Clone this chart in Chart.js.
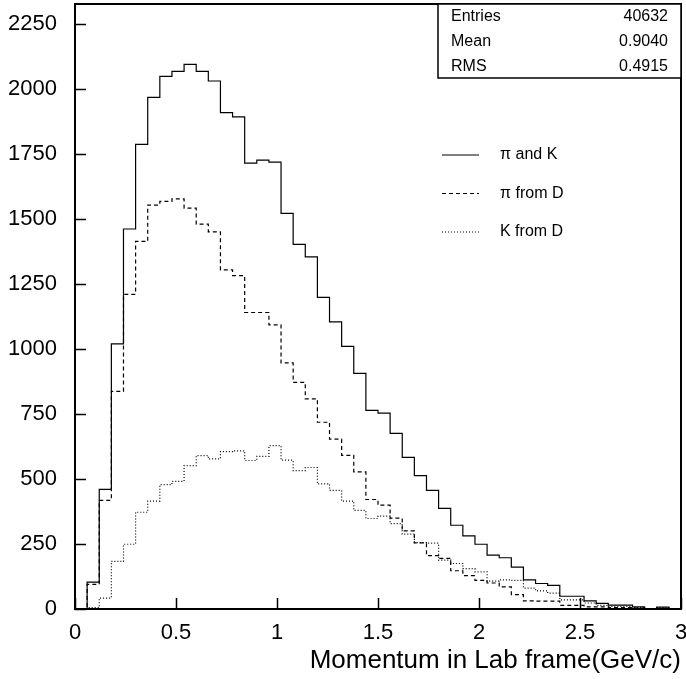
<!DOCTYPE html>
<html>
<head>
<meta charset="utf-8">
<script src="https://cdn.jsdelivr.net/npm/chart.js@4.4.1/dist/chart.umd.min.js"></script>
<style>
html,body{margin:0;padding:0;background:#fff;}
#wrap{width:686px;height:679px;}
</style>
</head>
<body>
<div id="wrap"><canvas id="c" width="686" height="679"></canvas></div>
<script>
// Bin low edges (GeV/c), bin width 0.06
const binLowEdges = [0.00,0.06,0.12,0.18,0.24,0.30,0.36,0.42,0.48,0.54,
  0.60,0.66,0.72,0.78,0.84,0.90,0.96,1.02,1.08,1.14,
  1.20,1.26,1.32,1.38,1.44,1.50,1.56,1.62,1.68,1.74,
  1.80,1.86,1.92,1.98,2.04,2.10,2.16,2.22,2.28,2.34,
  2.40,2.46,2.52,2.58,2.64,2.70,2.76,2.82,2.88,2.94];
const xUpperEdge = 3.0;

const piAndK = [0,103,460,1019,1461,1786,1967,2048,2067,2094,
  2067,2030,1908,1892,1714,1726,1718,1521,1402,1354,
  1198,1104,1010,906,764,753,675,583,513,456,
  387,322,281,249,207,197,161,112,98,91,
  49,49,31,22,15,15,8,2,7,0];
const piFromD = [0,95,418,837,1210,1413,1553,1567,1577,1541,
  1480,1450,1304,1282,1140,1140,1092,946,871,808,
  718,653,591,527,421,399,349,300,254,205,
  195,147,128,110,100,85,55,31,30,30,
  14,14,8,8,5,5,3,0,2,0];
const kFromD = [0,5,42,183,249,372,415,478,491,551,
  590,577,605,608,571,587,628,572,532,544,
  481,456,415,379,348,357,328,288,255,253,
  188,175,155,143,107,112,110,80,70,61,
  35,35,23,14,10,10,5,2,5,0];

const seriesNames = ['\u03c0 and K', '\u03c0 from D', 'K from D'];
const seriesDash = [[], [4,3], [1,2]];
const xTickValues = [0,0.5,1,1.5,2,2.5,3];
const yTickValues = [0,250,500,750,1000,1250,1500,1750,2000,2250];
const xTitle = 'Momentum in Lab frame(GeV/c)';
const statsLabels = ['Entries','Mean','RMS'];
const statsValues = ['40632','0.9040','0.4915'];

const FONT = "'Liberation Sans', Arial, Helvetica, sans-serif";

function histPoints(vals){
  const pts = binLowEdges.map((e,i)=>({x:e, y:vals[i]}));
  pts.push({x:xUpperEdge, y:vals[vals.length-1]});
  return pts;
}

const allSeries = [piAndK, piFromD, kFromD];
const datasets = allSeries.map((vals,i)=>({
  label: seriesNames[i],
  data: histPoints(vals),
  stepped: 'before',
  borderColor: '#000',
  borderWidth: 1.2,
  borderDash: seriesDash[i],
  pointRadius: 0,
  fill: false,
  tension: 0
}));

const decor = {
  id: 'decor',
  afterDatasetsDraw(chart){
    const ctx = chart.ctx;
    const a = chart.chartArea;
    const xs = chart.scales.x, ys = chart.scales.y;
    ctx.save();
    ctx.strokeStyle = '#000';
    // ticks (inward)
    ctx.lineWidth = 1.5;
    ctx.beginPath();
    yTickValues.forEach(v=>{
      const py = Math.round(ys.getPixelForValue(v))+0.5;
      ctx.moveTo(a.left, py); ctx.lineTo(a.left+11, py);
    });
    xTickValues.forEach(v=>{
      const px = Math.round(xs.getPixelForValue(v))+0.5;
      ctx.moveTo(px, a.bottom); ctx.lineTo(px, a.bottom-11);
    });
    ctx.stroke();
    // frame
    ctx.lineWidth = 2;
    ctx.strokeRect(a.left, a.top, a.right-a.left, a.bottom-a.top);
    // stats box
    const bx = a.left + 363, bw = a.right - bx, bh = 74;
    ctx.lineWidth = 1.5;
    ctx.fillStyle = '#fff';
    ctx.fillRect(bx, a.top, bw, bh);
    ctx.strokeRect(bx, a.top, bw, bh);
    ctx.fillStyle = '#000';
    ctx.font = '16px ' + FONT;
    ctx.textBaseline = 'middle';
    statsLabels.forEach((s,i)=>{
      const yy = a.top + 12.5 + i*25;
      ctx.textAlign = 'left';
      ctx.fillText(s, bx + 13, yy);
      ctx.textAlign = 'right';
      ctx.fillText(statsValues[i], a.right - 13, yy);
    });
    // legend
    ctx.lineWidth = 1.2;
    seriesNames.forEach((s,i)=>{
      const yy = a.top + 151 + i*38.5;
      ctx.setLineDash(seriesDash[i]);
      ctx.beginPath();
      ctx.moveTo(bx + 4, yy); ctx.lineTo(bx + 41, yy);
      ctx.stroke();
      ctx.setLineDash([]);
      ctx.textAlign = 'left';
      ctx.fillText(s, bx + 62, yy);
    });
    ctx.restore();
  }
};

function zeroPad(s){ s.paddingLeft = 0; s.paddingRight = 0; s.paddingTop = 0; s.paddingBottom = 0; }

new Chart(document.getElementById('c'), {
  type: 'line',
  data: { datasets },
  options: {
    responsive: false,
    animation: false,
    layout: { padding: { top: 4, right: 5, left: 0, bottom: 0 } },
    plugins: { legend: { display: false }, tooltip: { enabled: false } },
    scales: {
      x: {
        type: 'linear', min: 0, max: 3,
        grid: { display: false, drawTicks: false },
        border: { display: false },
        afterBuildTicks(s){ s.ticks = xTickValues.map(v=>({value:v})); },
        ticks: { color: '#000', font: { family: FONT, size: 22 }, padding: 11, maxRotation: 0, autoSkip: false,
                 callback: v => String(v) },
        title: { display: true, text: xTitle, align: 'end', color: '#000', font: { family: FONT, size: 26 }, padding: { top: 0, bottom: 3 } },
        afterFit(s){ s.height = 70; zeroPad(s); }
      },
      y: {
        type: 'linear', min: 0, max: 2326,
        grid: { display: false, drawTicks: false },
        border: { display: false },
        afterBuildTicks(s){ s.ticks = yTickValues.map(v=>({value:v})); },
        ticks: { color: '#000', font: { family: FONT, size: 22 }, padding: 18, autoSkip: false,
                 callback: v => String(v) },
        afterFit(s){ s.width = 75; zeroPad(s); }
      }
    }
  },
  plugins: [decor]
});
</script>
</body>
</html>
